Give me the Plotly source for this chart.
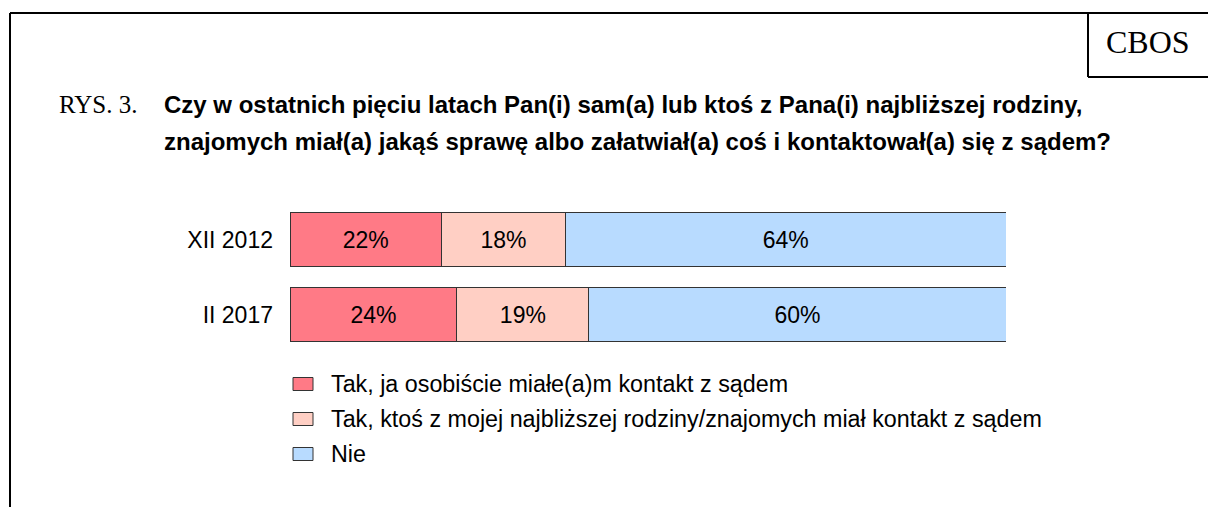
import plotly.graph_objects as go

W, H = 1208, 507

periods = ["XII 2012", "II 2017"]
series_names = [
    "Tak, ja osobiście miałe(a)m kontakt z sądem",
    "Tak, ktoś z mojej najbliższej rodziny/znajomych miał kontakt z sądem",
    "Nie",
]
series_values = [
    [22, 24],
    [18, 19],
    [64, 60],
]
series_colors = ["#FF7A86", "#FFCFC4", "#B8DBFF"]

title_lines = [
    "Czy w ostatnich pięciu latach Pan(i) sam(a) lub ktoś z Pana(i) najbliższej rodziny,",
    "znajomych miał(a) jakąś sprawę albo załatwiał(a) coś i kontaktował(a) się z sądem?",
]

SANS = "Liberation Sans, Arial, sans-serif"
SERIF = "Liberation Serif, Times New Roman, serif"


def px_x(x):
    return x / W


def px_y(y):
    return 1 - y / H


fig = go.Figure()
for name, vals, color in zip(series_names, series_values, series_colors):
    fig.add_trace(go.Bar(
        y=periods, x=vals, name=name, orientation="h",
        marker=dict(color=color, line=dict(color="#333333", width=1)),
        text=[f"{v}%" for v in vals],
        textposition="inside", insidetextanchor="middle", textangle=0,
        textfont=dict(family=SANS, size=23, color="black"),
        width=0.707, showlegend=False, hoverinfo="skip",
    ))

shapes = []
line_style = dict(color="black", width=2)
# outer frame (top + left) and CBOS box
shapes.append(dict(type="line", xref="paper", yref="paper",
                   x0=px_x(10), x1=1, y0=px_y(13), y1=px_y(13), line=line_style))
shapes.append(dict(type="line", xref="paper", yref="paper",
                   x0=px_x(10), x1=px_x(10), y0=px_y(13), y1=0, line=line_style))
shapes.append(dict(type="line", xref="paper", yref="paper",
                   x0=px_x(1088), x1=px_x(1088), y0=px_y(13), y1=px_y(77), line=line_style))
shapes.append(dict(type="line", xref="paper", yref="paper",
                   x0=px_x(1088), x1=1, y0=px_y(77), y1=px_y(77), line=line_style))

annotations = [
    dict(text="CBOS", x=px_x(1148), y=px_y(42), xref="paper", yref="paper",
         xanchor="center", yanchor="middle", showarrow=False,
         font=dict(family=SERIF, size=32, color="black")),
    dict(text="RYS. 3.", x=px_x(57), y=px_y(105), xref="paper", yref="paper",
         xanchor="left", yanchor="middle", showarrow=False,
         font=dict(family=SERIF, size=25, color="black")),
]
for i, line in enumerate(title_lines):
    annotations.append(dict(
        text=f"<b>{line}</b>", x=px_x(162), y=px_y(105 + 36 * i),
        xref="paper", yref="paper", xanchor="left", yanchor="middle", showarrow=False,
        font=dict(family=SANS, size=24, color="black"),
    ))

# legend built by hand to get the wide square swatches
for i, (name, color) in enumerate(zip(series_names, series_colors)):
    cy = 384 + 35 * i
    shapes.append(dict(type="rect", xref="paper", yref="paper",
                       x0=px_x(293), x1=px_x(313), y0=px_y(cy - 6.5), y1=px_y(cy + 6.5),
                       fillcolor=color, line=dict(color="#333333", width=1)))
    annotations.append(dict(text=name, x=px_x(329), y=px_y(cy), xref="paper", yref="paper",
                            xanchor="left", yanchor="middle", showarrow=False,
                            font=dict(family=SANS, size=23.3, color="black")))

fig.update_layout(
    width=W, height=H,
    margin=dict(l=0, r=0, t=0, b=0),
    paper_bgcolor="white", plot_bgcolor="white",
    barmode="stack", barnorm="percent",
    shapes=shapes, annotations=annotations,
    xaxis=dict(domain=[px_x(290), px_x(1006)], range=[0, 100], visible=False, fixedrange=True),
    yaxis=dict(domain=[px_y(352), px_y(202)], range=[1.5, -0.5], showgrid=False,
               zeroline=False, showline=False, ticks="", ticklabelstandoff=16,
               tickfont=dict(family=SANS, size=23, color="black"), fixedrange=True),
    showlegend=False,
)

fig.write_html(
    "out.html",
    config={"displayModeBar": False},
    post_script="document.body.style.margin='0';document.body.style.overflow='hidden';",
)
